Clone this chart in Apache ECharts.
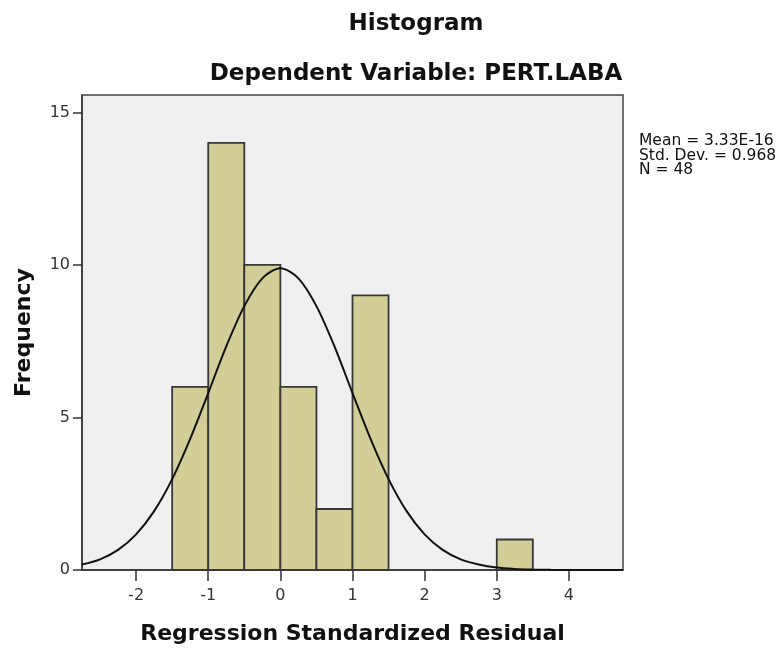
<!DOCTYPE html>
<html>
<head>
<meta charset="utf-8">
<title>Histogram</title>
<script src="https://cdn.jsdelivr.net/npm/echarts@6/dist/echarts.min.js"></script>
<style>
html,body{margin:0;padding:0;background:#fff;}
#chart{width:780px;height:651px;}
</style>
</head>
<body>
<div id="chart"></div>
<script>
// bins of the histogram (start, end) and their counts
var binStart=[-1.5,-1.0,-0.5,0.0,0.5,1.0,3.0];
var binEnd=[-1.0,-0.5,0.0,0.5,1.0,1.5,3.5];
var counts=[6,14,10,6,2,9,1];

// normal curve
var curveX=[-2.75,-2.5,-2.25,-2,-1.75,-1.5,-1.25,-1,-0.75,-0.5,-0.25,0,0.25,0.5,0.75,1,1.25,1.5,1.75,2,2.25,2.5,2.75,3,3.25,3.5,3.75,4,4.25,4.5,4.75];
var curveY=[0.18,0.35,0.66,1.17,1.93,2.98,4.3,5.8,7.33,8.65,9.56,9.89,9.56,8.65,7.33,5.8,4.3,2.98,1.93,1.17,0.66,0.35,0.18,0.08,0.035,0.014,0.005,0.002,0,0,0];

var xTicks=[-2,-1,0,1,2,3,4];
var yTicks=[0,5,10,15];

var statsText=['Mean = 3.33E-16','Std. Dev. = 0.968','N = 48'];

var barData=[];
for(var i=0;i<counts.length;i++){
	barData.push([binStart[i],binEnd[i],counts[i]]);
}
var lineData=[];
for(var j=0;j<curveX.length;j++){
	lineData.push([curveX[j],curveY[j]]);
}

var font='"DejaVu Sans", sans-serif';
var myChart=echarts.init(document.getElementById('chart'));
var option={
	animation:false,
	title:[{
		text:'Histogram',
		left:411,top:8,textAlign:'center',
		textStyle:{fontFamily:font,fontSize:23,fontWeight:'bold',color:'#111'}
	},{
		text:'Dependent Variable: PERT.LABA',
		left:411,top:58,textAlign:'center',
		textStyle:{fontFamily:font,fontSize:23,fontWeight:'bold',color:'#111'}
	},{
		text:statsText.join('\n'),
		left:634,top:129,
		textStyle:{fontFamily:font,fontSize:15.5,fontWeight:'normal',color:'#111',lineHeight:14.5}
	}],
	grid:{
		left:82,top:95,right:157,bottom:81,
		show:true,backgroundColor:'#F0F0F0',borderColor:'#444',borderWidth:1.5
	},
	xAxis:{
		type:'value',min:-2.75,max:4.75,
		name:'Regression Standardized Residual',
		nameLocation:'middle',nameGap:53,
		nameTextStyle:{fontFamily:font,fontSize:22,fontWeight:'bold',color:'#111'},
		axisLine:{show:true,onZero:false,lineStyle:{color:'#333',width:1.5}},
		axisTick:{show:true,customValues:xTicks,length:11,lineStyle:{color:'#333',width:1.5}},
		axisLabel:{customValues:xTicks,fontFamily:font,fontSize:16,color:'#333',margin:18},
		splitLine:{show:false}
	},
	yAxis:{
		type:'value',min:0,max:15.57,
		name:'Frequency',
		nameLocation:'middle',nameGap:47,nameRotate:90,
		nameTextStyle:{fontFamily:font,fontSize:22,fontWeight:'bold',color:'#111'},
		axisLine:{show:true,onZero:false,lineStyle:{color:'#333',width:1.5}},
		axisTick:{show:true,customValues:yTicks,length:9,lineStyle:{color:'#333',width:1.5}},
		axisLabel:{customValues:yTicks,fontFamily:font,fontSize:16,color:'#333',margin:12},
		splitLine:{show:false}
	},
	series:[{
		type:'custom',
		data:barData,
		encode:{x:[0,1],y:2},
		renderItem:function(params,api){
			var p0=api.coord([api.value(0),api.value(2)]);
			var p1=api.coord([api.value(1),0]);
			return {
				type:'rect',
				shape:{x:p0[0],y:p0[1],width:p1[0]-p0[0],height:p1[1]-p0[1]},
				style:{fill:'#D3CE98',stroke:'#383838',lineWidth:1.8}
			};
		},
		z:2
	},{
		type:'line',
		data:lineData,
		smooth:0.3,
		showSymbol:false,
		lineStyle:{color:'#111',width:2},
		z:3
	}]
};
myChart.setOption(option);
</script>
</body>
</html>
